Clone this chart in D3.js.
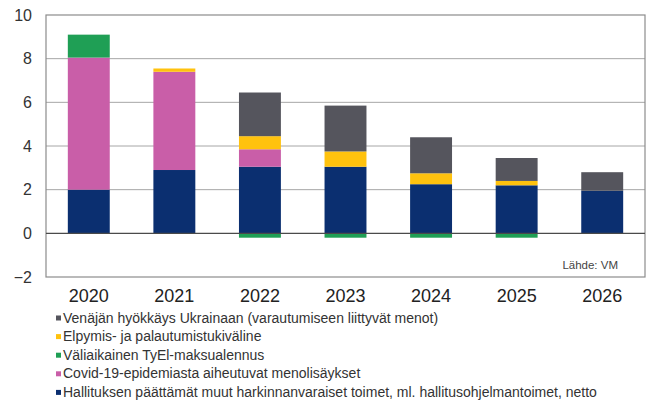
<!DOCTYPE html>
<html><head><meta charset="utf-8">
<script src="https://cdn.jsdelivr.net/npm/d3@7"></script>
<style>body{margin:0;background:#fff}svg{display:block;font-family:Arial,"Liberation Sans",sans-serif}</style>
</head><body><svg id="c" width="647" height="406"></svg>
<script>
const years = ["2020","2021","2022","2023","2024","2025","2026"];
const seriesNames = [
  "Hallituksen päättämät muut harkinnanvaraiset toimet, ml. hallitusohjelmantoimet, netto",
  "Covid-19-epidemiasta aiheutuvat menolisäykset",
  "Väliaikainen TyEl-maksualennus",
  "Elpymis- ja palautumistukiväline",
  "Venäjän hyökkäys Ukrainaan (varautumiseen liittyvät menot)"
];
const hallitus = [2.0, 2.9, 3.05, 3.05, 2.25, 2.2, 1.95];
const covid    = [6.05, 4.5, 0.8, 0.0, 0.0, 0.0, 0.0];
const tyel     = [1.05, 0.0, -0.2, -0.2, -0.2, -0.2, 0.0];
const elpymis  = [0.0, 0.15, 0.6, 0.7, 0.5, 0.2, 0.0];
const venaja   = [0.0, 0.0, 2.0, 2.1, 1.65, 1.05, 0.85];
const yTicks = [-2, 0, 2, 4, 6, 8, 10];
const seriesValues = [hallitus, covid, tyel, elpymis, venaja];
const colors = ["#0b2f70", "#c95ea8", "#1f9f55", "#ffc20e", "#55555d"];

const svg = d3.select("#c");
const L = 46, R = 645, T = 15, B = 277;
const x = d3.scaleBand().domain(years).range([L, R]).paddingInner(0.51).paddingOuter(0.255);
const y = d3.scaleLinear().domain([-2, 10]).range([B, T]);

svg.append("g").selectAll("line").data(yTicks.filter(d => d !== 0 && d !== -2 && d !== 10)).join("line")
  .attr("x1", L).attr("x2", R).attr("y1", d => y(d)).attr("y2", d => y(d))
  .attr("stroke", "#a6a6a6").attr("stroke-width", 1);

years.forEach((yr, i) => {
  let pos = 0, neg = 0;
  seriesValues.forEach((vals, s) => {
    const v = vals[i];
    if (v === 0) return;
    let y0, y1;
    if (v > 0) { y0 = pos; y1 = pos + v; pos = y1; }
    else { y0 = neg; y1 = neg + v; neg = y1; }
    svg.append("rect")
      .attr("x", x(yr)).attr("width", x.bandwidth())
      .attr("y", y(Math.max(y0, y1))).attr("height", Math.abs(y(y0) - y(y1)))
      .attr("fill", colors[s]);
  });
});

svg.append("rect").attr("x", L).attr("y", T).attr("width", R - L).attr("height", B - T)
  .attr("fill", "none").attr("stroke", "#8c8c8c").attr("stroke-width", 1.2);
svg.append("line").attr("x1", L).attr("x2", R).attr("y1", y(0)).attr("y2", y(0))
  .attr("stroke", "#4a4a4a").attr("stroke-width", 1.2);

const yAxis = d3.axisLeft(y).tickValues(yTicks).tickSize(0).tickPadding(14).tickFormat(d3.format("d"));
const gy = svg.append("g").attr("transform", `translate(${L},0)`).call(yAxis);
gy.select(".domain").remove();
gy.selectAll("text").attr("font-size", 16).attr("fill", "#333").attr("font-family", "Arial, Liberation Sans, sans-serif");

const xAxis = d3.axisBottom(x).tickSize(0).tickPadding(12);
const gx = svg.append("g").attr("transform", `translate(0,${B})`).call(xAxis);
gx.select(".domain").remove();
gx.selectAll("text").attr("font-size", 18).attr("fill", "#222").attr("font-family", "Arial, Liberation Sans, sans-serif");

svg.append("text").attr("x", 618).attr("y", 269).attr("text-anchor", "end")
  .attr("font-size", 11.5).attr("fill", "#444").text("Lähde: VM");

const legendOrder = [4, 3, 2, 1, 0];
const lg = svg.append("g");
legendOrder.forEach((s, k) => {
  const cy = 318 + k * 18.6;
  lg.append("rect").attr("x", 56).attr("y", cy - 2.5).attr("width", 5).attr("height", 5).attr("fill", colors[s]);
  lg.append("text").attr("x", 63).attr("y", cy + 4.5).attr("font-size", 14).attr("fill", "#333").text(seriesNames[s]);
});
</script></body></html>
